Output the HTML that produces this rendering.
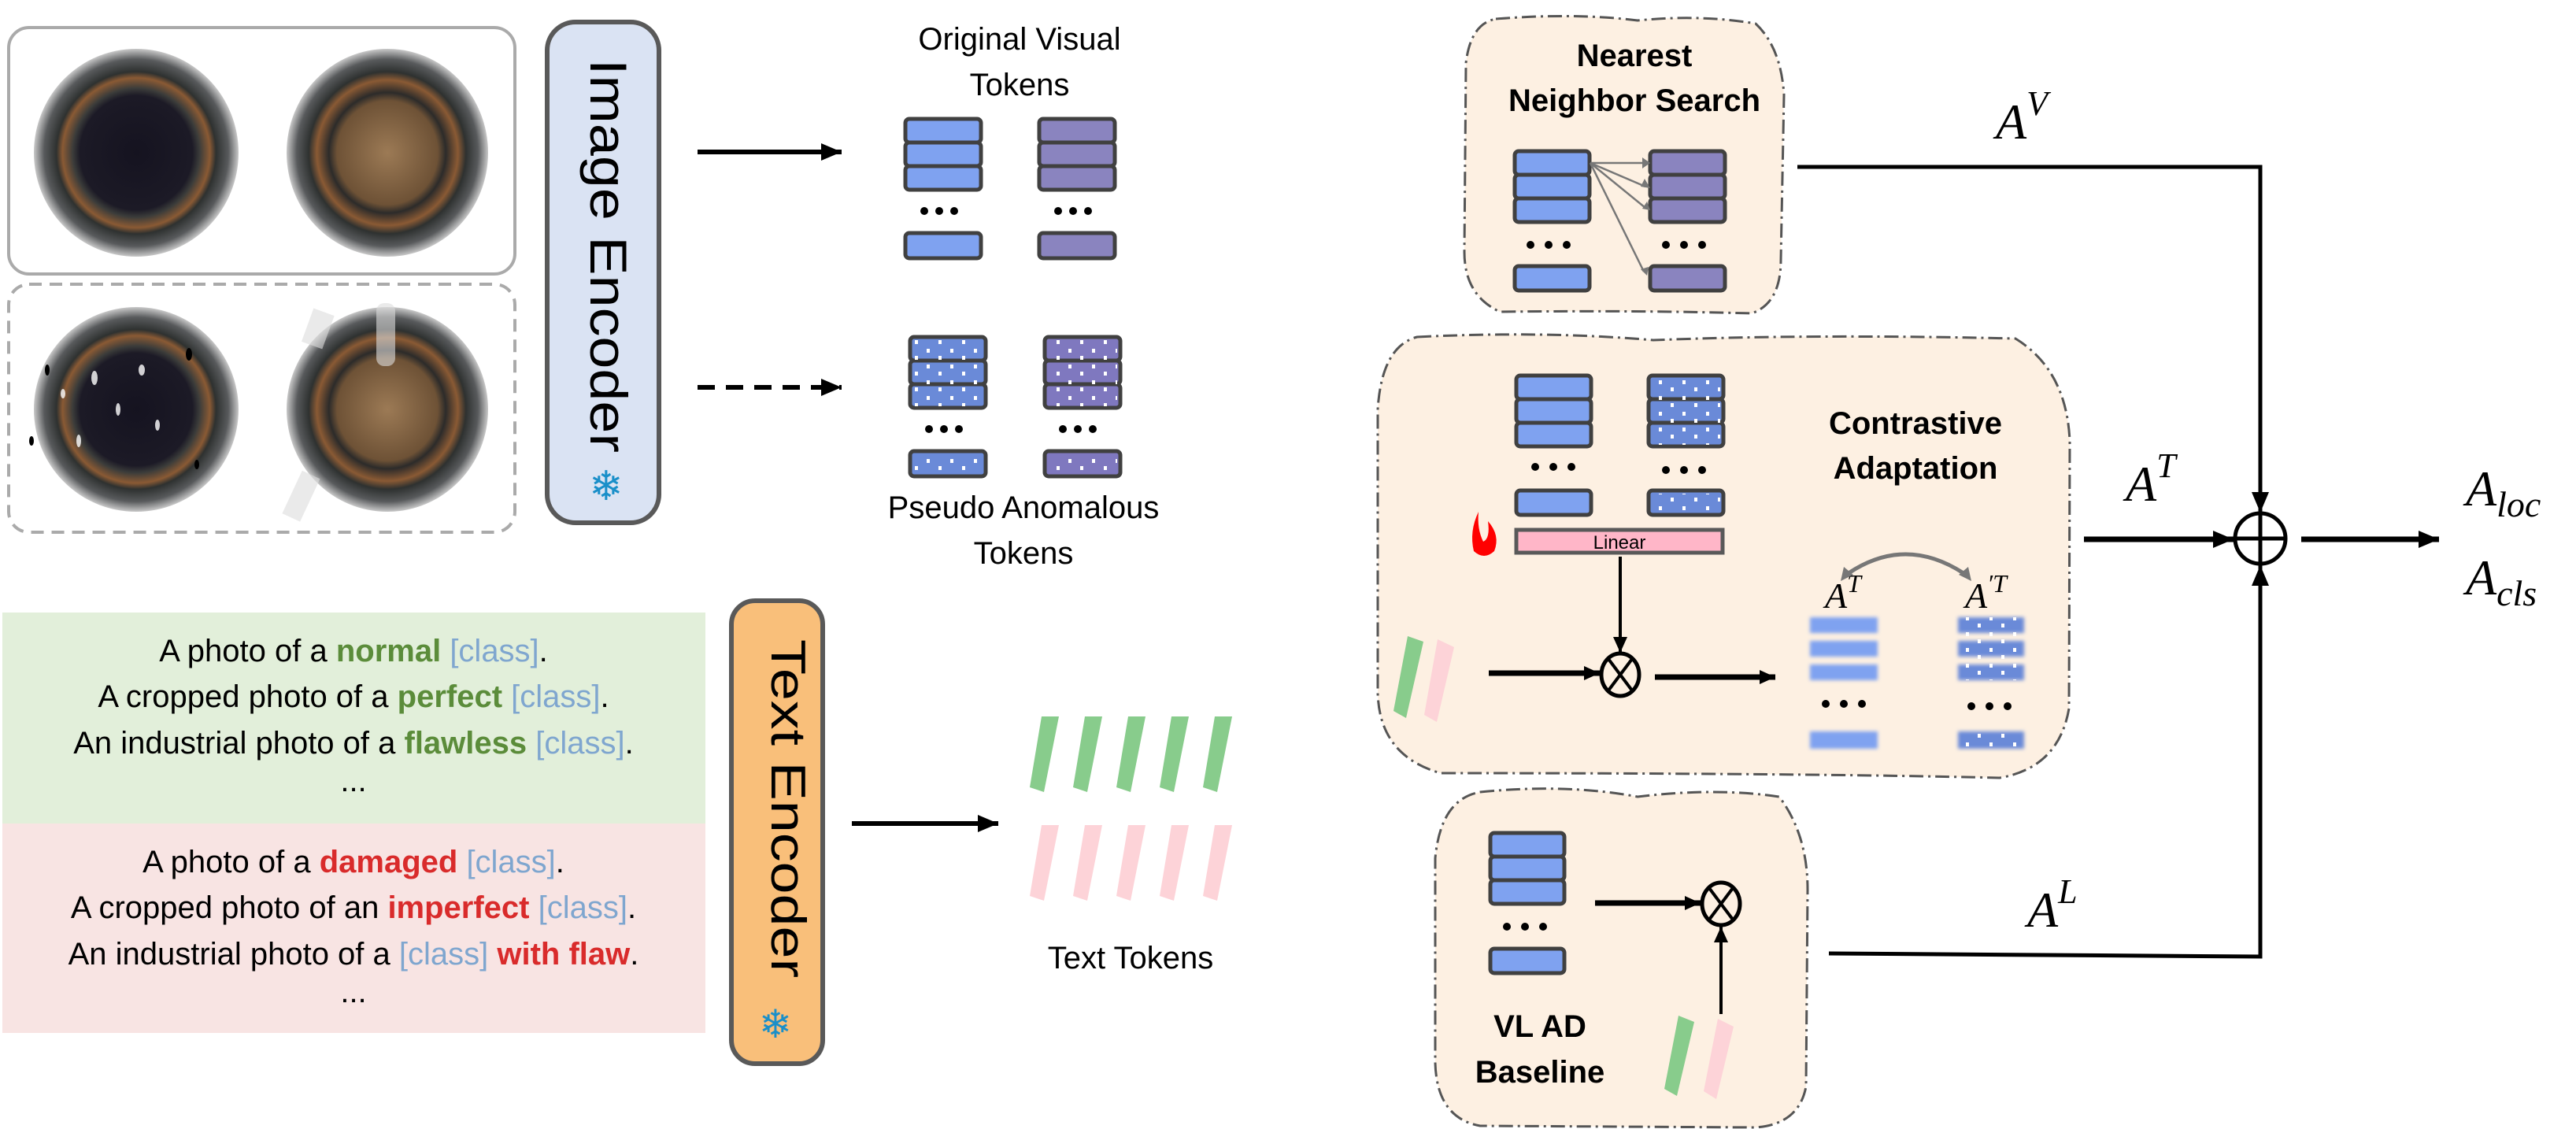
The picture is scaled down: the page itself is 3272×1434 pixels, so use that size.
<!DOCTYPE html>
<html><head><meta charset="utf-8"><style>
html,body{margin:0;padding:0;background:#fff;}
svg{display:block}
.n{font-family:"Liberation Sans Narrow","Liberation Sans",sans-serif}
.m{font-family:"Liberation Serif",serif;font-style:italic}
</style></head><body>
<svg width="3272" height="1434" viewBox="0 0 3272 1434" xmlns="http://www.w3.org/2000/svg">
<defs>
<pattern id="dots" width="30" height="20" patternUnits="userSpaceOnUse">
<rect x="7" y="3" width="4" height="5" fill="#fff"/><rect x="22" y="12" width="4" height="5" fill="#fff"/>
</pattern>
<marker id="ah" markerWidth="26" markerHeight="22" refX="10" refY="5" orient="auto" markerUnits="userSpaceOnUse" viewBox="0 0 10 10" preserveAspectRatio="none"><path d="M0,0 L10,5 L0,10z" fill="#000"/></marker>
<marker id="as" markerWidth="20" markerHeight="18" refX="10" refY="5" orient="auto" markerUnits="userSpaceOnUse" viewBox="0 0 10 10" preserveAspectRatio="none"><path d="M0,0 L10,5 L0,10z" fill="#000"/></marker>
<radialGradient id="ringA" cx="0.5" cy="0.5" r="0.5">
<stop offset="0" stop-color="#151320"/><stop offset="0.55" stop-color="#1c1a26"/><stop offset="0.62" stop-color="#3b3c3a"/><stop offset="0.72" stop-color="#8a5a34"/><stop offset="0.78" stop-color="#2e3130"/><stop offset="0.9" stop-color="#585a5c"/><stop offset="1" stop-color="#c8c8c8"/>
</radialGradient>
<radialGradient id="ringB" cx="0.5" cy="0.5" r="0.5">
<stop offset="0" stop-color="#9c7a55"/><stop offset="0.5" stop-color="#6e5236"/><stop offset="0.58" stop-color="#2c2b2a"/><stop offset="0.7" stop-color="#8a5a34"/><stop offset="0.78" stop-color="#2e3130"/><stop offset="0.9" stop-color="#585a5c"/><stop offset="1" stop-color="#c8c8c8"/>
</radialGradient>
<filter id="blur"><feGaussianBlur stdDeviation="2.5"/></filter>
</defs>

<!-- image boxes -->
<rect x="11" y="35" width="643" height="313" rx="26" fill="#fff" stroke="#aaa" stroke-width="4"/>
<rect x="11" y="361" width="643" height="315" rx="26" fill="#fff" stroke="#aaa" stroke-width="4" stroke-dasharray="16,10"/>
<ellipse cx="173" cy="194" rx="130" ry="132" fill="url(#ringA)"/>
<ellipse cx="492" cy="194" rx="128" ry="132" fill="url(#ringB)"/>
<ellipse cx="173" cy="520" rx="130" ry="130" fill="url(#ringA)"/>
<ellipse cx="492" cy="520" rx="128" ry="130" fill="url(#ringB)"/>
<g fill="#fff" opacity="0.8">
<ellipse cx="120" cy="480" rx="4" ry="9"/><ellipse cx="150" cy="520" rx="3" ry="8"/><ellipse cx="180" cy="470" rx="4" ry="7"/><ellipse cx="100" cy="560" rx="3" ry="8"/><ellipse cx="200" cy="540" rx="3" ry="7"/><ellipse cx="80" cy="500" rx="3" ry="6"/>
</g>
<g fill="#000"><ellipse cx="60" cy="470" rx="3" ry="7"/><ellipse cx="240" cy="450" rx="4" ry="8"/><ellipse cx="40" cy="560" rx="3" ry="6"/><ellipse cx="250" cy="590" rx="3" ry="6"/></g>
<g fill="#ddd" opacity="0.6"><rect x="390" y="395" width="28" height="45" transform="rotate(20 404 417)"/><rect x="478" y="385" width="24" height="80" rx="10"/><rect x="370" y="600" width="25" height="60" transform="rotate(25 382 630)"/></g>

<!-- Image encoder -->
<rect x="695" y="28" width="142" height="636" rx="36" fill="#dae3f3" stroke="#595959" stroke-width="6"/>
<text transform="translate(750,75) rotate(90)" font-family="Liberation Sans,sans-serif" font-size="66" fill="#000" textLength="500" lengthAdjust="spacingAndGlyphs">Image Encoder</text>
<text x="770" y="635" font-family="DejaVu Sans,sans-serif" font-size="52" fill="#1a8fc9" text-anchor="middle">❄</text>

<!-- Text encoder -->
<rect x="929" y="763" width="116" height="588" rx="30" fill="#f9bf7a" stroke="#595959" stroke-width="6"/>
<text transform="translate(980,812) rotate(90)" font-family="Liberation Sans,sans-serif" font-size="62" fill="#000" textLength="430" lengthAdjust="spacingAndGlyphs">Text Encoder</text>
<text x="985" y="1318" font-family="DejaVu Sans,sans-serif" font-size="50" fill="#1a8fc9" text-anchor="middle">❄</text>

<!-- arrows left -->
<line x1="886" y1="193" x2="1069" y2="193" stroke="#000" stroke-width="6" marker-end="url(#ah)"/>
<line x1="886" y1="492" x2="1069" y2="492" stroke="#000" stroke-width="6" stroke-dasharray="22,14" marker-end="url(#ah)"/>
<line x1="1082" y1="1046" x2="1268" y2="1046" stroke="#000" stroke-width="6" marker-end="url(#ah)"/>

<!-- labels -->
<g class="n" font-size="40" text-anchor="middle" fill="#000">
<text x="1295" y="63">Original Visual</text>
<text x="1295" y="121">Tokens</text>
<text x="1300" y="658">Pseudo Anomalous</text>
<text x="1300" y="716">Tokens</text>
<text x="1436" y="1230">Text Tokens</text>
</g>

<!-- original tokens -->
<g stroke="#404040" stroke-width="5">
<rect x="1150" y="151" width="96" height="30" rx="5" fill="#7fa2f0"/><rect x="1150" y="181" width="96" height="30" rx="5" fill="#7fa2f0"/><rect x="1150" y="211" width="96" height="30" rx="5" fill="#7fa2f0"/><rect x="1150" y="296" width="96" height="32" rx="5" fill="#7fa2f0"/>
<rect x="1320" y="151" width="96" height="30" rx="5" fill="#8a84bf"/><rect x="1320" y="181" width="96" height="30" rx="5" fill="#8a84bf"/><rect x="1320" y="211" width="96" height="30" rx="5" fill="#8a84bf"/><rect x="1320" y="296" width="96" height="32" rx="5" fill="#8a84bf"/>
</g>
<g fill="#000"><circle cx="1174" cy="268" r="5"/><circle cx="1193" cy="268" r="5"/><circle cx="1212" cy="268" r="5"/><circle cx="1344" cy="268" r="5"/><circle cx="1363" cy="268" r="5"/><circle cx="1382" cy="268" r="5"/></g>
<!-- pseudo tokens -->
<g stroke="#404040" stroke-width="5">
<rect x="1156" y="428" width="96" height="30" rx="5" fill="#6a8ad8"/><rect x="1156" y="458" width="96" height="30" rx="5" fill="#6a8ad8"/><rect x="1156" y="488" width="96" height="30" rx="5" fill="#6a8ad8"/><rect x="1156" y="573" width="96" height="32" rx="5" fill="#6a8ad8"/>
<rect x="1327" y="428" width="96" height="30" rx="5" fill="#7f78bf"/><rect x="1327" y="458" width="96" height="30" rx="5" fill="#7f78bf"/><rect x="1327" y="488" width="96" height="30" rx="5" fill="#7f78bf"/><rect x="1327" y="573" width="96" height="32" rx="5" fill="#7f78bf"/>
</g>
<g fill="url(#dots)"><rect x="1160" y="432" width="88" height="84"/><rect x="1160" y="577" width="88" height="25"/><rect x="1331" y="432" width="88" height="84"/><rect x="1331" y="577" width="88" height="25"/></g>
<g fill="#000"><circle cx="1180" cy="545" r="5"/><circle cx="1199" cy="545" r="5"/><circle cx="1218" cy="545" r="5"/><circle cx="1350" cy="545" r="5"/><circle cx="1369" cy="545" r="5"/><circle cx="1388" cy="545" r="5"/></g>

<!-- prompt boxes -->
<rect x="3" y="778" width="893" height="268" fill="#e2efda"/>
<rect x="3" y="1046" width="893" height="266" fill="#f8e4e3"/>
<g class="n" font-size="40" text-anchor="middle" fill="#000">
<text x="449" y="840">A photo of a <tspan fill="#5b8c3a" font-weight="bold">normal</tspan> <tspan fill="#7fa6cf">[class]</tspan>.</text>
<text x="449" y="898">A cropped photo of a <tspan fill="#5b8c3a" font-weight="bold">perfect</tspan> <tspan fill="#7fa6cf">[class]</tspan>.</text>
<text x="449" y="957">An industrial photo of a <tspan fill="#5b8c3a" font-weight="bold">flawless</tspan> <tspan fill="#7fa6cf">[class]</tspan>.</text>
<text x="449" y="1005">...</text>
<text x="449" y="1108">A photo of a <tspan fill="#d92b2b" font-weight="bold">damaged</tspan> <tspan fill="#7fa6cf">[class]</tspan>.</text>
<text x="449" y="1166">A cropped photo of an <tspan fill="#d92b2b" font-weight="bold">imperfect</tspan> <tspan fill="#7fa6cf">[class]</tspan>.</text>
<text x="449" y="1225">An industrial photo of a <tspan fill="#7fa6cf">[class]</tspan> <tspan fill="#d92b2b" font-weight="bold">with flaw</tspan>.</text>
<text x="449" y="1273">...</text>
</g>

<!-- text tokens -->
<g fill="#88cc8c">
<path d="M1323,910 L1345,910 L1326,1006 L1308,1000z"/>
<path d="M1323,910 L1345,910 L1326,1006 L1308,1000z" transform="translate(55,0)"/>
<path d="M1323,910 L1345,910 L1326,1006 L1308,1000z" transform="translate(110,0)"/>
<path d="M1323,910 L1345,910 L1326,1006 L1308,1000z" transform="translate(165,0)"/>
<path d="M1323,910 L1345,910 L1326,1006 L1308,1000z" transform="translate(220,0)"/>
</g>
<g fill="#fdd3d8">
<path d="M1323,1048 L1345,1048 L1326,1144 L1308,1138z"/>
<path d="M1323,1048 L1345,1048 L1326,1144 L1308,1138z" transform="translate(55,0)"/>
<path d="M1323,1048 L1345,1048 L1326,1144 L1308,1138z" transform="translate(110,0)"/>
<path d="M1323,1048 L1345,1048 L1326,1144 L1308,1138z" transform="translate(165,0)"/>
<path d="M1323,1048 L1345,1048 L1326,1144 L1308,1138z" transform="translate(220,0)"/>
</g>

<!-- right boxes -->
<g fill="#fdf0e2" stroke="#555" stroke-width="3" stroke-dasharray="18,6,3,6">
<path d="M1900,24 Q2000,16 2080,26 Q2160,18 2230,30 Q2262,60 2266,120 L2262,330 Q2262,385 2225,398 Q2080,394 1905,396 Q1860,375 1860,320 L1862,80 Q1868,30 1900,24z"/>
<path d="M1800,428 Q1960,420 2100,432 Q2300,424 2560,430 Q2625,470 2629,560 L2628,900 Q2615,975 2540,988 Q2300,982 1830,982 Q1752,960 1750,880 L1750,520 Q1755,440 1800,428z"/>
<path d="M1880,1006 Q1990,995 2080,1012 Q2180,1000 2260,1012 Q2296,1060 2296,1130 L2294,1380 Q2285,1428 2230,1432 L1880,1430 Q1825,1420 1823,1350 L1823,1090 Q1830,1015 1880,1006z"/>
</g>
<g font-family="Liberation Sans Narrow,Liberation Sans,sans-serif" font-weight="bold" font-size="40" text-anchor="middle" fill="#000">
<text x="2076" y="84">Nearest</text>
<text x="2076" y="141">Neighbor Search</text>
<text x="2433" y="551">Contrastive</text>
<text x="2433" y="608">Adaptation</text>
<text x="1956" y="1317">VL AD</text>
<text x="1956" y="1375">Baseline</text>
</g>

<!-- NN tokens -->
<g stroke="#404040" stroke-width="5">
<rect x="1924" y="192" width="95" height="30" rx="5" fill="#7fa2f0"/><rect x="1924" y="222" width="95" height="30" rx="5" fill="#7fa2f0"/><rect x="1924" y="252" width="95" height="30" rx="5" fill="#7fa2f0"/><rect x="1924" y="338" width="95" height="31" rx="5" fill="#7fa2f0"/>
<rect x="2096" y="192" width="95" height="30" rx="5" fill="#8a84bf"/><rect x="2096" y="222" width="95" height="30" rx="5" fill="#8a84bf"/><rect x="2096" y="252" width="95" height="30" rx="5" fill="#8a84bf"/><rect x="2096" y="338" width="95" height="31" rx="5" fill="#8a84bf"/>
</g>
<g stroke="#777" stroke-width="2.5" fill="none">
<line x1="2020" y1="207" x2="2090" y2="207"/><line x1="2020" y1="207" x2="2090" y2="237"/><line x1="2020" y1="207" x2="2090" y2="264"/><line x1="2020" y1="207" x2="2088" y2="345"/>
</g>
<g fill="#777"><path d="M2096,207 l-10,-7 v14z"/><path d="M2096,239 l-12,-2 l5,-10z"/><path d="M2096,267 l-10,-2 l6,-9z"/><path d="M2092,350 l-8,-8 l10,-3z"/></g>
<g fill="#000"><circle cx="1944" cy="311" r="5"/><circle cx="1967" cy="311" r="5"/><circle cx="1990" cy="311" r="5"/><circle cx="2116" cy="311" r="5"/><circle cx="2139" cy="311" r="5"/><circle cx="2162" cy="311" r="5"/></g>

<!-- CA tokens -->
<g stroke="#404040" stroke-width="5">
<rect x="1926" y="477" width="95" height="30" rx="5" fill="#7fa2f0"/><rect x="1926" y="507" width="95" height="30" rx="5" fill="#7fa2f0"/><rect x="1926" y="537" width="95" height="30" rx="5" fill="#7fa2f0"/><rect x="1926" y="623" width="95" height="31" rx="5" fill="#7fa2f0"/>
<rect x="2094" y="477" width="95" height="30" rx="5" fill="#6a8ad8"/><rect x="2094" y="507" width="95" height="30" rx="5" fill="#6a8ad8"/><rect x="2094" y="537" width="95" height="30" rx="5" fill="#6a8ad8"/><rect x="2094" y="623" width="95" height="31" rx="5" fill="#6a8ad8"/>
</g>
<g fill="url(#dots)"><rect x="2098" y="481" width="87" height="84"/><rect x="2098" y="627" width="87" height="24"/></g>
<g fill="#000"><circle cx="1950" cy="593" r="5"/><circle cx="1973" cy="593" r="5"/><circle cx="1996" cy="593" r="5"/><circle cx="2116" cy="597" r="5"/><circle cx="2139" cy="597" r="5"/><circle cx="2162" cy="597" r="5"/></g>
<path d="M1878,650 Q1866,675 1872,700 Q1885,712 1898,700 Q1906,680 1890,662 Q1893,684 1884,688 Q1876,672 1878,650z" fill="#f00"/>
<rect x="1926" y="673" width="262" height="29" fill="#ffb6c8" stroke="#595959" stroke-width="5"/>
<text x="2057" y="697" class="n" font-size="24" text-anchor="middle">Linear</text>
<line x1="2058" y1="707" x2="2058" y2="829" stroke="#000" stroke-width="4" marker-end="url(#as)"/>
<ellipse cx="2058" cy="857" rx="24" ry="27" fill="none" stroke="#000" stroke-width="5"/>
<line x1="2043" y1="837" x2="2073" y2="877" stroke="#000" stroke-width="4"/><line x1="2073" y1="837" x2="2043" y2="877" stroke="#000" stroke-width="4"/>
<path d="M1788,808 L1808,815 L1786,912 L1770,903z" fill="#88cc8c"/>
<path d="M1826,812 L1847,822 L1825,917 L1809,908z" fill="#fdd3d8"/>
<line x1="1891" y1="855" x2="2032" y2="855" stroke="#000" stroke-width="7" marker-end="url(#as)"/>
<line x1="2102" y1="860" x2="2255" y2="860" stroke="#000" stroke-width="7" marker-end="url(#as)"/>
<text x="2318" y="772" class="m" font-size="46">A<tspan font-size="32" dy="-20">T</tspan></text>
<text x="2496" y="772" class="m" font-size="46">A<tspan font-size="32" dy="-20">′T</tspan></text>
<path d="M2348,728 Q2420,680 2494,728" fill="none" stroke="#777" stroke-width="5"/>
<path d="M2338,738 l4,-18 l12,10z M2504,738 l-4,-18 l-12,10z" fill="#777"/>
<g filter="url(#blur)">
<rect x="2299" y="784" width="86" height="20" fill="#7fa2f0"/><rect x="2299" y="814" width="86" height="20" fill="#7fa2f0"/><rect x="2299" y="844" width="86" height="20" fill="#7fa2f0"/><rect x="2299" y="929" width="86" height="22" fill="#7fa2f0"/>
<rect x="2487" y="784" width="84" height="20" fill="#6a8ad8"/><rect x="2487" y="814" width="84" height="20" fill="#6a8ad8"/><rect x="2487" y="844" width="84" height="20" fill="#6a8ad8"/><rect x="2487" y="929" width="84" height="22" fill="#6a8ad8"/>
</g>
<g fill="url(#dots)"><rect x="2487" y="784" width="84" height="80"/><rect x="2487" y="929" width="84" height="22"/></g>
<g fill="#000"><circle cx="2319" cy="894" r="5"/><circle cx="2342" cy="894" r="5"/><circle cx="2365" cy="894" r="5"/><circle cx="2504" cy="897" r="5"/><circle cx="2527" cy="897" r="5"/><circle cx="2550" cy="897" r="5"/></g>

<!-- VL AD -->
<g stroke="#404040" stroke-width="5">
<rect x="1893" y="1058" width="94" height="30" rx="5" fill="#7fa2f0"/><rect x="1893" y="1088" width="94" height="30" rx="5" fill="#7fa2f0"/><rect x="1893" y="1118" width="94" height="30" rx="5" fill="#7fa2f0"/><rect x="1893" y="1205" width="94" height="31" rx="5" fill="#7fa2f0"/>
</g>
<g fill="#000"><circle cx="1914" cy="1177" r="5"/><circle cx="1937" cy="1177" r="5"/><circle cx="1960" cy="1177" r="5"/></g>
<line x1="2026" y1="1147" x2="2160" y2="1147" stroke="#000" stroke-width="7" marker-end="url(#as)"/>
<ellipse cx="2186" cy="1148" rx="24" ry="27" fill="none" stroke="#000" stroke-width="5"/>
<line x1="2171" y1="1128" x2="2201" y2="1168" stroke="#000" stroke-width="4"/><line x1="2201" y1="1128" x2="2171" y2="1168" stroke="#000" stroke-width="4"/>
<line x1="2186" y1="1288" x2="2186" y2="1177" stroke="#000" stroke-width="4" marker-end="url(#as)"/>
<path d="M2132,1290 L2152,1298 L2130,1392 L2114,1383z" fill="#88cc8c"/>
<path d="M2182,1294 L2202,1304 L2180,1396 L2164,1386z" fill="#fdd3d8"/>

<!-- outputs -->
<polyline points="2283,212 2871,212 2871,651" fill="none" stroke="#000" stroke-width="5" marker-end="url(#ah)"/>
<polyline points="2323,1211 2871,1215 2871,718" fill="none" stroke="#000" stroke-width="5" marker-end="url(#ah)"/>
<line x1="2647" y1="685" x2="2837" y2="685" stroke="#000" stroke-width="7" marker-end="url(#ah)"/>
<circle cx="2871" cy="684" r="32" fill="#fff" stroke="#000" stroke-width="5"/>
<line x1="2839" y1="684" x2="2903" y2="684" stroke="#000" stroke-width="5"/><line x1="2871" y1="652" x2="2871" y2="716" stroke="#000" stroke-width="5"/>
<line x1="2923" y1="685" x2="3098" y2="685" stroke="#000" stroke-width="7" marker-end="url(#ah)"/>
<text x="2535" y="176" class="m" font-size="64">A<tspan font-size="44" dy="-30">V</tspan></text>
<text x="2700" y="636" class="m" font-size="64">A<tspan font-size="44" dy="-30">T</tspan></text>
<text x="2575" y="1177" class="m" font-size="64">A<tspan font-size="44" dy="-30">L</tspan></text>
<text x="3132" y="642" class="m" font-size="64">A<tspan font-size="46" dy="14">loc</tspan></text>
<text x="3132" y="755" class="m" font-size="64">A<tspan font-size="46" dy="14">cls</tspan></text>
</svg>
</body></html>
